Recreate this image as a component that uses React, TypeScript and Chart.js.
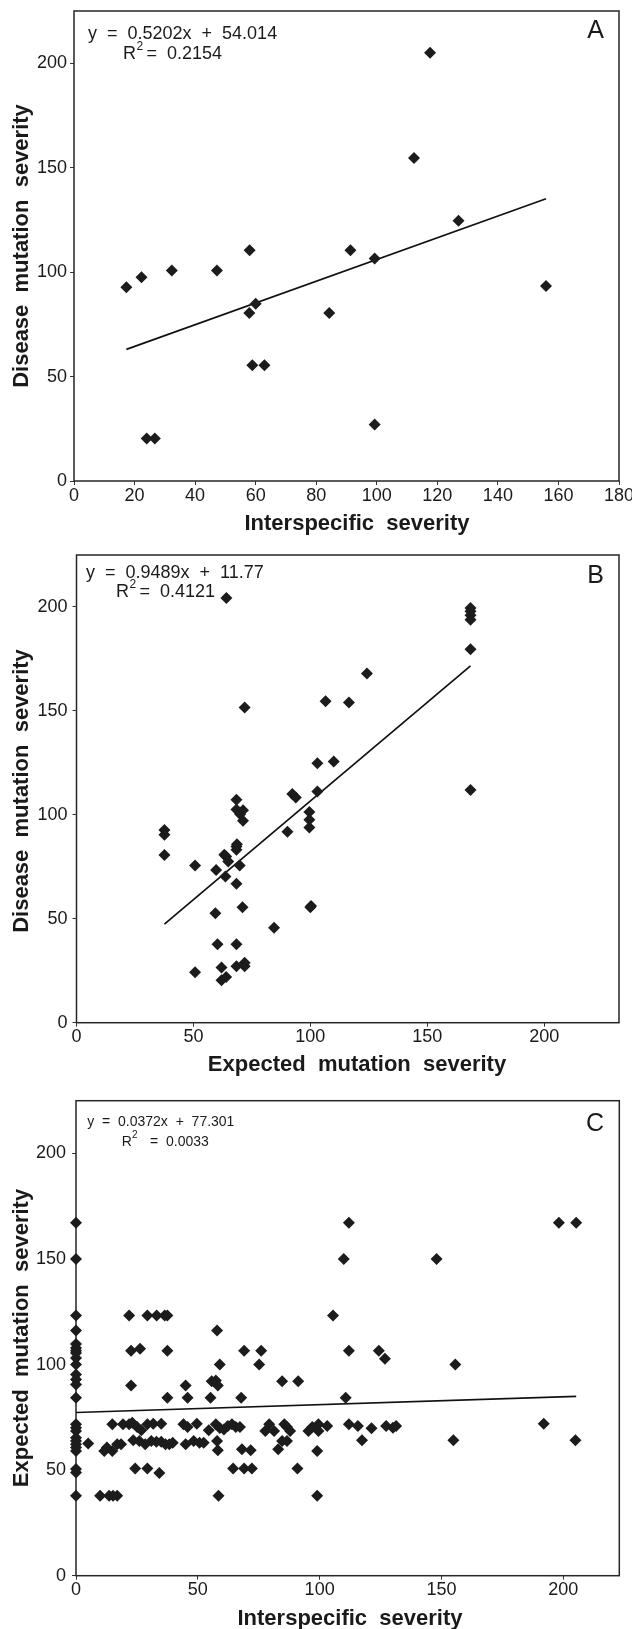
import React, { useEffect, useRef } from "react";
import { Chart, registerables } from "chart.js";

Chart.register(...registerables);

const FONT = '"Liberation Sans", Arial, Helvetica, sans-serif';

// ---------------- Panel A ----------------
const aInterspecific = [17.3, 22.3, 32.3, 47.2, 57.9, 60.0, 58.9, 62.9, 24.0, 26.7, 84.3, 99.3, 155.9, 58.0, 91.3, 99.3, 127.0, 112.3, 117.6];
const aDisease = [92.7, 97.5, 100.8, 100.8, 80.4, 84.9, 55.4, 55.4, 20.4, 20.4, 80.4, 27.1, 93.3, 110.5, 110.5, 106.5, 124.6, 154.6, 205.0];
const aXTicks = [0, 20, 40, 60, 80, 100, 120, 140, 160, 180];
const aYTicks = [0, 50, 100, 150, 200];
const aSlope = 0.5202;
const aIntercept = 54.014;
const aEquation = "y  =  0.5202x  +  54.014";
const aR2 = "=  0.2154";

// ---------------- Panel B ----------------
const bExpected = [
  64.1, 71.9, 168.5, 168.5, 168.5, 168.5, 168.5, 168.5, 124.2, 106.5, 116.5, 103.0, 110.0, 103.0, 92.3, 93.8,
  68.4, 68.4, 70.0, 71.2, 71.2, 99.6, 99.6, 99.6, 37.6, 37.6, 37.6, 50.7, 59.7, 63.2, 64.0, 64.9, 63.7,
  68.4, 68.6, 68.4, 68.4, 69.8, 90.2, 71.0, 100.0, 100.3, 59.4, 84.5, 60.3, 68.4, 50.7, 62.0, 62.0, 64.0,
  68.4, 71.9, 71.9,
];
const bDisease = [
  204.3, 151.6, 199.5, 197.9, 196.0, 193.8, 179.7, 112.0, 168.0, 154.6, 154.0, 124.8, 125.7, 111.2, 110.0, 108.3,
  107.2, 102.6, 100.3, 102.2, 97.1, 101.4, 97.6, 93.9, 92.7, 90.4, 80.7, 75.6, 73.5, 80.8, 79.9, 77.5, 70.3,
  84.8, 85.9, 83.2, 66.8, 75.6, 91.9, 55.6, 55.6, 56.2, 52.7, 45.7, 37.7, 37.7, 24.3, 26.5, 20.4, 22.0,
  27.2, 28.8, 27.2,
];
const bXTicks = [0, 50, 100, 150, 200];
const bYTicks = [0, 50, 100, 150, 200];
const bSlope = 0.9489;
const bIntercept = 11.77;
const bEquation = "y  =  0.9489x  +  11.77";
const bR2 = "=  0.4121";

// ---------------- Panel C ----------------
const cInterspecific = [
  // x = 0 column
  0, 0, 0, 0, 0, 0, 0, 0, 0, 0, 0, 0, 0, 0, 0, 0, 0, 0, 0, 0, 0, 0, 0, 0, 0,
  // others
  5.0, 9.9, 13.6, 15.2, 16.9, 11.6, 12.7, 14.9, 14.9, 16.9, 18.5,
  19.3, 21.8, 23.1, 25.1, 26.8, 23.5, 26.0, 28.4, 30.9, 22.6, 24.3, 29.3, 34.2,
  29.3, 31.7, 35.0, 33.0, 35.0, 36.7, 38.3, 39.7, 37.5, 45.0, 44.1, 45.8, 49.6,
  45.0, 48.3, 50.7, 52.4, 45.8, 55.2, 55.7, 57.4, 58.2, 59.0,
  54.5, 57.4, 59.0, 60.7, 62.3, 64.0, 65.6, 67.3, 57.9, 58.2, 58.5,
  64.5, 69.0, 72.2, 67.8, 75.2, 68.1, 71.7, 77.7, 79.3, 81.3, 83.0,
  84.6, 84.6, 86.6, 85.5, 86.6, 87.9, 91.2, 90.9,
  95.4, 97.0, 99.5, 99.5, 103.1, 99.0, 99.0, 110.7, 112.0, 115.7, 117.4, 121.3,
  126.8, 127.3, 130.1, 131.4, 154.9, 155.7, 192.0, 205.0,
  // upper rows
  21.8, 29.3, 33.1, 36.4, 37.5, 57.9, 105.5, 109.9, 112.0, 148.0, 198.2, 205.3,
  22.6, 26.3, 37.5, 69.0, 76.0, 112.0, 124.3,
];
const cExpected = [
  167.2, 150.0, 123.2, 116.1, 109.7, 107.9, 106.5, 105.5, 103.1, 100.0, 95.3, 92.9, 90.6, 84.3,
  71.7, 70.1, 68.6, 65.4, 63.8, 62.3, 60.7, 59.1, 50.5, 48.9, 37.9,
  62.6, 37.9, 37.9, 37.9, 37.9, 59.1, 60.7, 59.1, 71.7, 62.3, 62.3,
  71.7, 71.7, 72.5, 70.4, 68.9, 64.2, 63.8, 62.3, 63.8, 90.1, 50.8, 50.8, 48.6,
  71.7, 72.0, 72.0, 63.5, 63.5, 62.3, 62.3, 63.0, 84.3, 90.1, 71.7, 70.4, 72.0,
  62.3, 63.8, 63.0, 63.0, 84.3, 84.3, 92.1, 92.5, 90.1, 100.0,
  68.9, 71.7, 70.0, 69.3, 70.9, 71.7, 70.4, 70.4, 63.8, 59.4, 37.9,
  50.8, 50.8, 50.8, 84.3, 100.0, 59.9, 59.4, 68.6, 71.7, 68.6, 59.9,
  92.1, 63.8, 63.8, 71.7, 70.4, 68.6, 92.1, 50.8,
  68.6, 70.4, 68.6, 71.7, 70.9, 59.1, 37.9, 84.3, 71.7, 70.9, 64.2, 69.8,
  102.8, 70.9, 70.1, 70.9, 64.2, 100.0, 72.0, 64.2,
  123.2, 123.2, 123.2, 123.2, 123.2, 116.1, 123.2, 150.0, 167.2, 150.0, 167.2, 167.2,
  106.5, 107.5, 106.5, 106.5, 106.5, 106.5, 106.5,
];
const cXTicks = [0, 50, 100, 150, 200];
const cYTicks = [0, 50, 100, 150, 200];
const cSlope = 0.0372;
const cIntercept = 77.301;
const cEquation = "y  =  0.0372x  +  77.301";
const cR2 = "=  0.0033";

type PanelCfg = {
  top: number;
  height: number;
  area: { l: number; r: number; t: number; b: number };
  xs: number[];
  ys: number[];
  xMax: number;
  yMax: number;
  xTicks: number[];
  yTicks: number[];
  yTickPad: number;
  slope: number;
  intercept: number;
  xTitle: string;
  yTitle: string;
  xTitleX: number;
  xTitleY: number;
  yTitleX: number;
  yTitleY: number;
  eq: string;
  eqX: number;
  eqY: number;
  eqSize: number;
  rX: number;
  rY: number;
  supX: number;
  supSize: number;
  supRaise: number;
  r2: string;
  restX: number;
  letter: string;
  letterX: number;
  letterY: number;
};

const panels: PanelCfg[] = [
  {
    top: 0, height: 545,
    area: { l: 74, r: 619, t: 11, b: 481 },
    xs: aInterspecific, ys: aDisease, xMax: 180, yMax: 225,
    xTicks: aXTicks, yTicks: aYTicks, yTickPad: 3,
    slope: aSlope, intercept: aIntercept,
    xTitle: "Interspecific  severity", yTitle: "Disease  mutation  severity",
    xTitleX: 357, xTitleY: 530, yTitleX: 28, yTitleY: 246,
    eq: aEquation, eqX: 88, eqY: 38.5, eqSize: 18,
    rX: 123, rY: 59.3, supX: 136.5, supSize: 12, supRaise: 9, r2: aR2, restX: 146.5,
    letter: "A", letterX: 604, letterY: 38.3,
  },
  {
    top: 545, height: 535,
    area: { l: 76.5, r: 619, t: 10, b: 477.7 },
    xs: bExpected, ys: bDisease, xMax: 232, yMax: 225,
    xTicks: bXTicks, yTicks: bYTicks, yTickPad: 5,
    slope: bSlope, intercept: bIntercept,
    xTitle: "Expected  mutation  severity", yTitle: "Disease  mutation  severity",
    xTitleX: 357, xTitleY: 526, yTitleX: 28, yTitleY: 246,
    eq: bEquation, eqX: 86, eqY: 32.5, eqSize: 18,
    rX: 116, rY: 51.7, supX: 129.5, supSize: 12, supRaise: 9, r2: bR2, restX: 139.5,
    letter: "B", letterX: 604, letterY: 38.3,
  },
  {
    top: 1080, height: 549,
    area: { l: 76, r: 619.3, t: 20.7, b: 495.7 },
    xs: cInterspecific, ys: cExpected, xMax: 223, yMax: 225,
    xTicks: cXTicks, yTicks: cYTicks, yTickPad: 6,
    slope: cSlope, intercept: cIntercept,
    xTitle: "Interspecific  severity", yTitle: "Expected  mutation  severity",
    xTitleX: 350, xTitleY: 545, yTitleX: 28, yTitleY: 258,
    eq: cEquation, eqX: 87.3, eqY: 45.7, eqSize: 14,
    rX: 121.7, rY: 65.7, supX: 132, supSize: 10, supRaise: 8, r2: cR2, restX: 150,
    letter: "C", letterX: 604, letterY: 50.7,
  },
];

const INK = "#1a1a1a";

function Panel({ cfg }: { cfg: PanelCfg }) {
  const ref = useRef<HTMLCanvasElement | null>(null);

  useEffect(() => {
    const canvas = ref.current;
    if (!canvas) return;
    const W = 632;
    const points = cfg.xs.map((x, i) => ({ x, y: cfg.ys[i] }));
    const minX = Math.min(...cfg.xs);
    const maxX = Math.max(...cfg.xs);
    const trend = [
      { x: minX, y: cfg.slope * minX + cfg.intercept },
      { x: maxX, y: cfg.slope * maxX + cfg.intercept },
    ];

    const decor = {
      id: "decor" + cfg.letter,
      beforeDatasetsDraw(chart: any) {
        const ctx = chart.ctx;
        const a = chart.chartArea;
        ctx.save();
        ctx.strokeStyle = "#262626";
        ctx.lineWidth = 1.5;
        ctx.strokeRect(a.left, a.top, a.right - a.left, a.bottom - a.top);
        ctx.restore();
      },
      afterDraw(chart: any) {
        const ctx = chart.ctx;
        ctx.save();
        ctx.fillStyle = INK;
        ctx.textBaseline = "alphabetic";
        // axis titles
        ctx.font = `bold 22px ${FONT}`;
        ctx.textAlign = "center";
        ctx.fillText(cfg.xTitle, cfg.xTitleX, cfg.xTitleY);
        ctx.save();
        ctx.translate(cfg.yTitleX, cfg.yTitleY);
        ctx.rotate(-Math.PI / 2);
        ctx.fillText(cfg.yTitle, 0, 0);
        ctx.restore();
        // equation
        ctx.textAlign = "left";
        ctx.font = `${cfg.eqSize}px ${FONT}`;
        ctx.fillText(cfg.eq, cfg.eqX, cfg.eqY);
        ctx.fillText("R", cfg.rX, cfg.rY);
        ctx.font = `${cfg.supSize}px ${FONT}`;
        ctx.fillText("2", cfg.supX, cfg.rY - cfg.supRaise);
        ctx.font = `${cfg.eqSize}px ${FONT}`;
        ctx.fillText(cfg.r2, cfg.restX, cfg.rY);
        // panel letter
        ctx.font = `25px ${FONT}`;
        ctx.textAlign = "right";
        ctx.fillText(cfg.letter, cfg.letterX, cfg.letterY);
        ctx.restore();
      },
    };

    const chart = new Chart(canvas, {
      type: "scatter",
      data: {
        datasets: [
          {
            type: "scatter",
            data: points,
            pointStyle: "rectRot",
            pointRadius: 6,
            pointHoverRadius: 6,
            backgroundColor: "#1c1c1c",
            borderColor: "#1c1c1c",
            borderWidth: 0,
            clip: false,
            order: 1,
          } as any,
          {
            type: "line",
            data: trend,
            borderColor: "#111",
            borderWidth: 1.7,
            pointRadius: 0,
            fill: false,
            showLine: true,
            order: 2,
          } as any,
        ],
      },
      options: {
        responsive: false,
        animation: false,
        events: [],
        layout: {
          autoPadding: false,
          padding: { top: cfg.area.t, left: 0, right: W - cfg.area.r, bottom: 0 },
        },
        plugins: { legend: { display: false }, tooltip: { enabled: false } },
        scales: {
          x: {
            type: "linear",
            min: 0,
            max: cfg.xMax,
            afterBuildTicks: (s: any) => {
              s.ticks = cfg.xTicks.map((v) => ({ value: v }));
            },
            afterFit: (s: any) => {
              s.height = cfg.height - cfg.area.b;
              s.paddingLeft = 0;
              s.paddingRight = 0;
              s.paddingTop = 0;
              s.paddingBottom = 0;
            },
            grid: { display: true, drawOnChartArea: false, drawTicks: true, tickLength: 4, color: "#333", lineWidth: 1 },
            border: { display: false },
            ticks: {
              autoSkip: false,
              maxRotation: 0,
              padding: 0,
              color: INK,
              font: { family: FONT, size: 18 },
              callback: (v: any) => String(v),
            },
          },
          y: {
            type: "linear",
            min: 0,
            max: cfg.yMax,
            afterBuildTicks: (s: any) => {
              s.ticks = cfg.yTicks.map((v) => ({ value: v }));
            },
            afterFit: (s: any) => {
              s.width = cfg.area.l;
              s.paddingLeft = 0;
              s.paddingRight = 0;
              s.paddingTop = 0;
              s.paddingBottom = 0;
            },
            grid: { display: true, drawOnChartArea: false, drawTicks: true, tickLength: 4, color: "#333", lineWidth: 1 },
            border: { display: false },
            ticks: {
              autoSkip: false,
              padding: cfg.yTickPad,
              color: INK,
              font: { family: FONT, size: 18 },
              callback: (v: any) => String(v),
            },
          },
        },
      } as any,
      plugins: [decor],
    });
    return () => chart.destroy();
  }, [cfg]);

  return (
    <canvas
      ref={ref}
      width={632}
      height={cfg.height}
      style={{ position: "absolute", left: 0, top: cfg.top, width: 632, height: cfg.height }}
    />
  );
}

export default function App() {
  return (
    <div style={{ position: "absolute", left: 0, top: 0, width: 632, height: 1629, background: "#fff", overflow: "hidden" }}>
      {panels.map((p) => (
        <Panel key={p.letter} cfg={p} />
      ))}
    </div>
  );
}
